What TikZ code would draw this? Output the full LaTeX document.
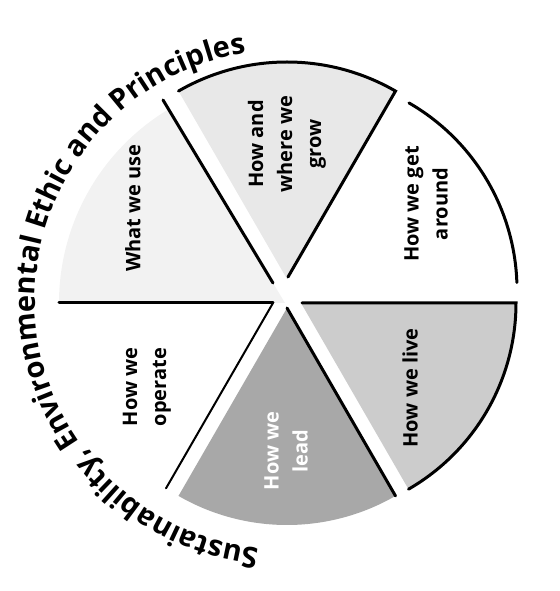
\documentclass[tikz,border=0pt]{standalone}
\usepackage{fontspec}
\newfontfamily\opensans{Open Sans}
\usetikzlibrary{decorations.text}
\begin{document}
\begin{tikzpicture}[x=1pt,y=1pt,
  edge/.style={line width=3pt, line cap=round},
  thinedge/.style={line width=2pt, line cap=round},
  lbl/.style={rotate=90, align=center, font=\opensans\bfseries\fontsize{20}{29}\selectfont, text=black},
  usefill/.style={fill=gray!10},
  growfill/.style={fill=gray!18},
  livefill/.style={fill=gray!40},
  leadfill/.style={fill=gray!68},
]
\useasboundingbox (-285,-291) rectangle (274,300);
% sector fills
\fill[usefill] (0,-3) -- ++(180:226pt) arc[start angle=180,end angle=121,radius=226pt] -- cycle;
\fill[growfill] (2,21) -- ++(60:217pt) arc[start angle=60,end angle=120,radius=217pt] -- cycle;
\fill[livefill] (16,-3) -- ++(0:215pt) arc[start angle=0,end angle=-60,radius=215pt] -- cycle;
\fill[leadfill] (2,-8) -- ++(-60:217pt) arc[start angle=-60,end angle=-120,radius=217pt] -- cycle;
% outlines
\draw[edge] (2,21) ++(120:217pt) arc[start angle=120,end angle=60,radius=217pt] -- (3,23);
\draw[edge] (16,10) ++(60:216pt) arc[start angle=60,end angle=2,radius=216pt];
\draw[edge] (17,-3) -- (231,-3) arc[start angle=0,end angle=-60,radius=215pt];
\draw[edge] (2,-8) -- ++(-60:217pt);
\draw[thinedge] (-12,-3) -- ++(240:214pt);
\draw[edge] (-12,-3) -- (-226,-3);
\draw[edge] (-12,17) -- (-122,200);
% labels
\node[lbl] (use) at (-152,92) {What we use};
\node[lbl] (grow) at (2,156) {How and\\where we\\grow};
\node[lbl] (around) at (141,96) {How we get\\around};
\node[lbl] (live) at (125,-88) {How we live};
\node[lbl, text=white] (lead) at (1,-151) {How we\\lead};
\node[lbl] (operate) at (-138,-87) {How we\\operate};
% title along the arc
\path[decorate, decoration={text along path, text align=left,
  text={|\opensans\bfseries\fontsize{29}{29}\selectfont|Sustainability, Environmental Ethic and Principles}}]
  (264:250pt) arc[start angle=264,end angle=88,radius=250pt];
\end{tikzpicture}
\end{document}
